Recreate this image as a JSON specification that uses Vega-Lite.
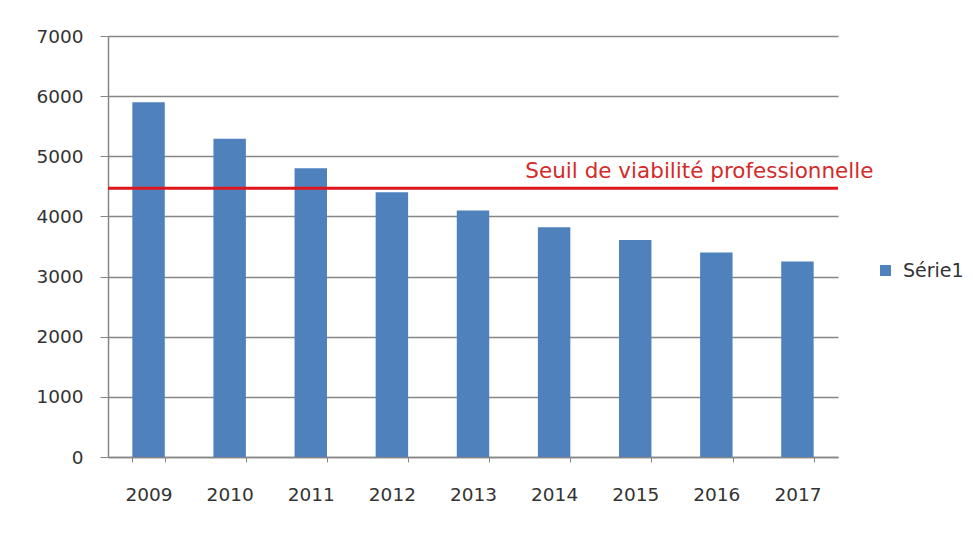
{
  "$schema": "https://vega.github.io/schema/vega-lite/v6.json",
  "autosize": "none",
  "width": 730,
  "height": 421,
  "padding": {"left": 108, "top": 36, "right": 135, "bottom": 77},
  "background": "white",
  "config": {
    "view": {"stroke": null},
    "font": "DejaVu Sans",
    "axis": {
      "labelFont": "DejaVu Sans",
      "labelFontSize": 18.5,
      "labelColor": "#333333",
      "domainColor": "#868686",
      "tickColor": "#868686",
      "gridColor": "#868686",
      "title": null
    }
  },
  "layer": [
    {
      "data": {
        "values": [
          {"annee": "2009", "valeur": 5900, "serie": "Série1"},
          {"annee": "2010", "valeur": 5290, "serie": "Série1"},
          {"annee": "2011", "valeur": 4800, "serie": "Série1"},
          {"annee": "2012", "valeur": 4400, "serie": "Série1"},
          {"annee": "2013", "valeur": 4100, "serie": "Série1"},
          {"annee": "2014", "valeur": 3820, "serie": "Série1"},
          {"annee": "2015", "valeur": 3610, "serie": "Série1"},
          {"annee": "2016", "valeur": 3400, "serie": "Série1"},
          {"annee": "2017", "valeur": 3250, "serie": "Série1"}
        ]
      },
      "mark": {"type": "bar"},
      "encoding": {
        "x": {
          "field": "annee",
          "type": "nominal",
          "sort": null,
          "scale": {"paddingInner": 0.6, "paddingOuter": 0.3},
          "axis": {
            "labelAngle": 0,
            "tickBand": "extent",
            "tickSize": 5,
            "labelPadding": 23,
            "domainWidth": 1.5
          }
        },
        "y": {
          "field": "valeur",
          "type": "quantitative",
          "scale": {"domain": [0, 7000], "nice": false},
          "axis": {
            "values": [0, 1000, 2000, 3000, 4000, 5000, 6000, 7000],
            "format": "d",
            "tickSize": 8,
            "labelPadding": 17,
            "grid": true,
            "gridWidth": 1.3,
            "domainWidth": 1.5
          }
        },
        "color": {
          "field": "serie",
          "type": "nominal",
          "scale": {"range": ["#4F81BD"]},
          "legend": {
            "title": null,
            "orient": "none",
            "legendX": 768,
            "legendY": 225,
            "symbolType": "square",
            "symbolSize": 120,
            "symbolStrokeWidth": 0,
            "labelFontSize": 19,
            "labelColor": "#333333",
            "labelOffset": 8,
            "padding": 0
          }
        }
      }
    },
    {
      "data": {
        "values": [
          {"seuil": 4470, "annee": "2017", "texte": "Seuil de viabilité professionnelle"}
        ]
      },
      "layer": [
        {
          "mark": {"type": "rule", "color": "#E0161E", "strokeWidth": 3},
          "encoding": {
            "y": {"field": "seuil", "type": "quantitative"}
          }
        },
        {
          "mark": {
            "type": "text",
            "color": "#D42A2A",
            "fontSize": 21.5,
            "align": "right",
            "baseline": "alphabetic",
            "dx": 76,
            "dy": -10
          },
          "encoding": {
            "x": {"field": "annee", "type": "nominal"},
            "y": {"field": "seuil", "type": "quantitative"},
            "text": {"field": "texte"}
          }
        }
      ]
    }
  ]
}
